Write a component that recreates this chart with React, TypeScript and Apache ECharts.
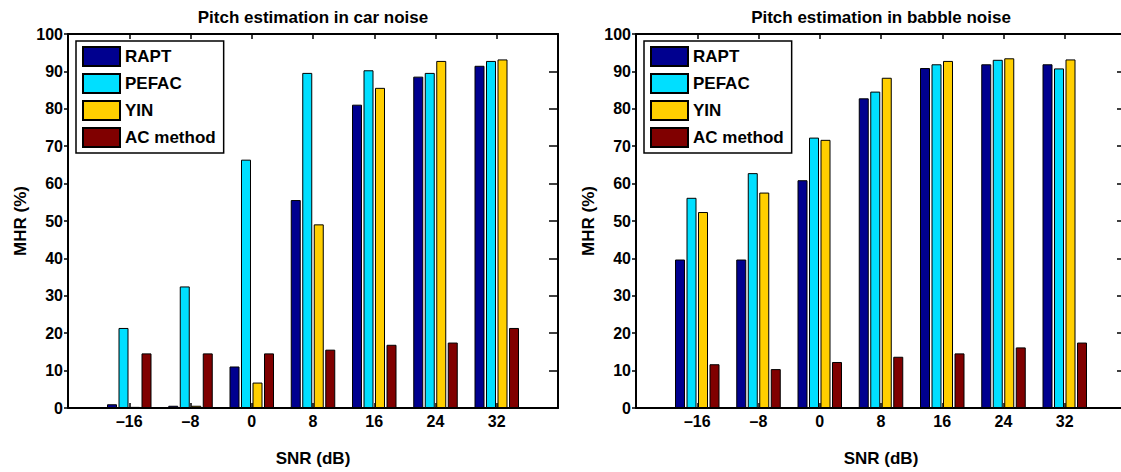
import React, { useEffect, useRef } from "react";
import * as echarts from "echarts";

const snr = [-16, -8, 0, 8, 16, 24, 32];
const methods = ["RAPT", "PEFAC", "YIN", "AC method"];
const colors = ["#00008F", "#00DFFF", "#FFCF00", "#800000"];

const carRapt = [1.0, 0.6, 11.1, 55.6, 81.1, 88.6, 91.5];
const carPefac = [21.4, 32.5, 66.4, 89.6, 90.3, 89.6, 92.8];
const carYin = [0.3, 0.6, 6.8, 49.1, 85.6, 92.8, 93.2];
const carAc = [14.6, 14.6, 14.6, 15.6, 16.9, 17.5, 21.4];

const babbleRapt = [39.7, 39.7, 60.9, 82.8, 90.9, 91.9, 91.9];
const babblePefac = [56.2, 62.8, 72.3, 84.6, 91.9, 93.1, 90.8];
const babbleYin = [52.4, 57.6, 71.7, 88.3, 92.8, 93.5, 93.2];
const babbleAc = [11.7, 10.4, 12.3, 13.7, 14.6, 16.2, 17.5];

const titles = ["Pitch estimation in car noise", "Pitch estimation in babble noise"];
const xName = "SNR (dB)";
const yName = "MHR (%)";

const FONT = "'Liberation Sans', Arial, Helvetica, sans-serif";

export default function App() {
  const ref = useRef<HTMLDivElement>(null);
  useEffect(() => {
    document.body.style.margin = "0";
    document.body.style.overflow = "hidden";
    if (!ref.current) return;
    const chart = echarts.init(ref.current, null, { renderer: "svg" });

    const panels = [
      { left: 68, data: [carRapt, carPefac, carYin, carAc] },
      { left: 636, data: [babbleRapt, babblePefac, babbleYin, babbleAc] },
    ];
    const top = 34;
    const width = 490;
    const height = 374;

    const labelFmt = (v: number) =>
      snr.includes(v) ? (v < 0 ? "\u2013" + Math.abs(v) : String(v)) : "";

    const grid: any[] = [];
    const xAxis: any[] = [];
    const yAxis: any[] = [];
    const series: any[] = [];
    const title: any[] = [];
    const legend: any[] = [];

    panels.forEach((p, gi) => {
      grid.push({ left: p.left, top, width, height, containLabel: false, outerBoundsMode: "none" });
      title.push({
        text: titles[gi],
        left: p.left + width / 2,
        top: 9,
        textAlign: "center",
        padding: 0,
        textStyle: { fontSize: 17, fontWeight: "bold", color: "#000", fontFamily: FONT },
      });
      const axisLine = { show: true, onZero: false, lineStyle: { color: "#000", width: 2 } };
      xAxis.push({
        type: "value",
        gridIndex: gi,
        position: "bottom",
        min: -24,
        max: 40,
        interval: 8,
        axisLine,
        axisTick: { show: true, inside: true, length: 5, lineStyle: { color: "#000", width: 1.5 } },
        axisLabel: {
          formatter: labelFmt,
          fontSize: 16,
          fontWeight: "bold",
          color: "#000",
          fontFamily: FONT,
          margin: 5,
        },
        splitLine: { show: false },
        name: xName,
        nameLocation: "middle",
        nameGap: 42,
        nameTextStyle: { fontSize: 17, fontWeight: "bold", color: "#000", fontFamily: FONT },
      });
      xAxis.push({
        type: "value",
        gridIndex: gi,
        position: "top",
        min: -24,
        max: 40,
        interval: 8,
        axisLine,
        axisTick: { show: true, inside: true, length: 5, lineStyle: { color: "#000", width: 1.5 } },
        axisLabel: { show: false },
        splitLine: { show: false },
      });
      yAxis.push({
        type: "value",
        gridIndex: gi,
        position: "left",
        min: 0,
        max: 100,
        interval: 10,
        axisLine,
        axisTick: { show: true, inside: false, length: 4, lineStyle: { color: "#000", width: 1.5 } },
        axisLabel: { fontSize: 16, fontWeight: "bold", color: "#000", fontFamily: FONT, margin: 5 },
        splitLine: { show: false },
        name: yName,
        nameLocation: "middle",
        nameGap: 39,
        nameTextStyle: { fontSize: 17, fontWeight: "bold", color: "#000", fontFamily: FONT },
      });
      yAxis.push({
        type: "value",
        gridIndex: gi,
        position: "right",
        min: 0,
        max: 100,
        interval: 10,
        axisLine,
        axisTick: { show: true, inside: true, length: 9, lineStyle: { color: "#000", width: 1.5 } },
        axisLabel: { show: false },
        splitLine: { show: false },
      });
      methods.forEach((m, si) => {
        series.push({
          type: "bar",
          name: m,
          xAxisIndex: gi * 2,
          yAxisIndex: gi * 2,
          barWidth: 10,
          barGap: "15%",
          data: snr.map((x, i) => [x, p.data[si][i]]),
          itemStyle: { color: colors[si], borderColor: "#000", borderWidth: 1 },
        });
      });
      legend.push({
        data: methods,
        orient: "vertical",
        left: p.left + 8,
        top: 41,
        itemWidth: 37,
        itemHeight: 19,
        itemGap: 6,
        padding: [5, 8, 5, 6],
        borderColor: "#000",
        borderWidth: 1.5,
        backgroundColor: "#fff",
        icon: "rect",
        selectedMode: false,
        textStyle: { fontSize: 17, fontWeight: "bold", color: "#000", fontFamily: FONT },
      });
    });

    chart.setOption({
      animation: false,
      backgroundColor: "#fff",
      title,
      legend,
      grid,
      xAxis,
      yAxis,
      series,
    });
    return () => chart.dispose();
  }, []);
  return (
    <div
      ref={ref}
      style={{ width: 1121, height: 472, position: "absolute", left: 0, top: 0 }}
    />
  );
}
